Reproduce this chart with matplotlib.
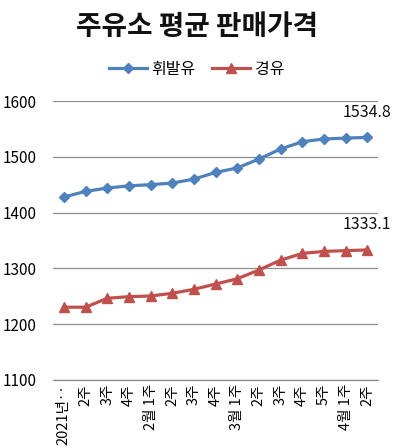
import matplotlib
matplotlib.use("Agg")
import matplotlib.pyplot as plt

plt.rcParams['font.family'] = ['Noto Sans CJK KR', 'DejaVu Sans']

weeks = ["2021년‥", "2주", "3주", "4주", "2월 1주", "2주", "3주", "4주",
         "3월 1주", "2주", "3주", "4주", "5주", "4월 1주", "2주"]
gasoline = [1428, 1438, 1444, 1448, 1450, 1453, 1460, 1472, 1480, 1496,
            1514, 1527, 1532, 1533.5, 1534.8]
diesel = [1230.4, 1230.4, 1246.4, 1249.3, 1250.5, 1255.3, 1262.5, 1271.9,
          1281.4, 1297, 1314.8, 1326.8, 1330.4, 1331.8, 1333.1]
series_names = ["휘발유", "경유"]
yticks = [1100, 1200, 1300, 1400, 1500, 1600]
title = "주유소 평균 판매가격"

fig = plt.figure(figsize=(3.93, 4.47), dpi=100)
ax = fig.add_axes([0.135, 0.150, 0.827, 0.624])

x = list(range(len(weeks)))
ax.plot(x, gasoline, color="#4F81BD", lw=2.3, marker="D", ms=5.5,
        label=series_names[0], zorder=3)
ax.plot(x, diesel, color="#C0504D", lw=2.3, marker="^", ms=6.5,
        label=series_names[1], zorder=3)

ax.annotate(f"{gasoline[-1]:.1f}", (x[-1], gasoline[-1]), xytext=(0, 12),
            textcoords="offset points", ha="center", va="bottom",
            fontsize=11.5, color="#111111")
ax.annotate(f"{diesel[-1]:.1f}", (x[-1], diesel[-1]), xytext=(0, 12),
            textcoords="offset points", ha="center", va="bottom",
            fontsize=11.5, color="#111111")

ax.set_xlim(-0.5, len(weeks) - 0.5)
ax.set_ylim(yticks[0], yticks[-1])
ax.set_yticks(yticks)
ax.set_yticklabels([str(v) for v in yticks], fontsize=11)
ax.set_xticks(x)
ax.set_xticklabels(weeks, rotation=90, fontsize=10.5, va="top", ha="center")
ax.tick_params(axis="y", length=0, pad=12)
ax.tick_params(axis="x", length=0, pad=3)

ax.grid(axis="y", color="#8c8c8c", lw=0.9)
ax.set_axisbelow(True)
for s in ["top", "right", "left"]:
    ax.spines[s].set_visible(False)
ax.spines["bottom"].set_color("#8c8c8c")
ax.spines["bottom"].set_linewidth(0.9)

fig.text(0.5, 0.94, title, ha="center", va="center", fontsize=20,
         fontweight="bold", color="#111111")
fig.legend(loc="center", bbox_to_anchor=(0.5, 0.845), ncol=2, frameon=False,
           fontsize=11.5, handlelength=2.4, handletextpad=0.3,
           columnspacing=1.0)

fig.savefig("out.png", dpi=100, facecolor="white")
